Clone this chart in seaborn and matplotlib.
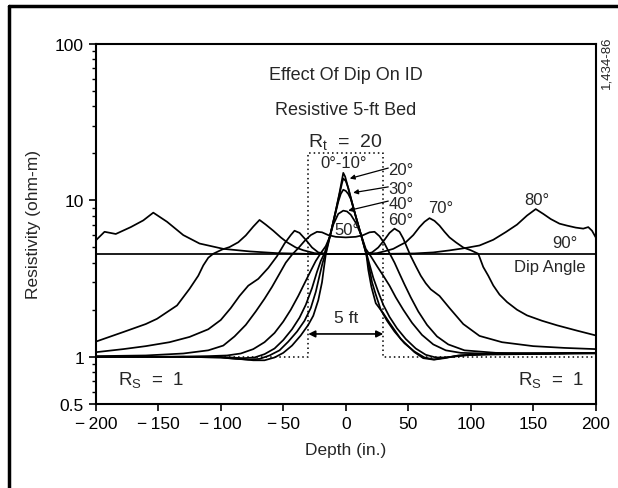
import matplotlib
matplotlib.use("Agg")
import matplotlib.pyplot as plt
import seaborn as sns
import pandas as pd
from matplotlib.lines import Line2D
from matplotlib.ticker import LogLocator, NullFormatter

# ID response of a resistive 5-ft bed (Rt = 20, Rs = 1) for several dip angles
# values: depth in inches, resistivity in ohm-m

depth_0_10 = [-200, -130, -100, -85, -74, -65, -57, -50, -43, -36, -30, -26, -22, -19, -17.5, -16,
              -12, -8, -5, -3, -2, -0.5, 1, 4, 8, 12, 16.5, 18, 20.5, 24, 30, 35, 44, 55, 62, 70,
              80, 100, 140, 200]
res_0_10 = [1.0, 1.0, 0.99, 0.97, 0.95, 0.95, 0.99, 1.06, 1.18, 1.37, 1.6, 1.83, 2.3, 3.0, 3.7, 4.5,
            6.2, 8.6, 11.2, 13.6, 15.0, 14.2, 12.8, 10.4, 7.9, 6.1, 4.5, 3.6, 2.8, 2.2, 1.9, 1.65,
            1.3, 1.07, 0.98, 0.96, 0.99, 1.03, 1.04, 1.05]

depth_20 = [-200, -130, -100, -88, -78, -69, -61, -53, -46, -39, -33, -28, -24, -21, -18.5, -16.5,
            -12, -8, -5, -3, -2, 0, 2, 4, 8, 12, 16.5, 18.5, 21, 24, 28, 33, 39, 47, 55, 63, 71, 79,
            90, 110, 150, 200]
res_20 = [1.0, 1.0, 0.99, 0.97, 0.96, 0.97, 1.02, 1.1, 1.25, 1.45, 1.7, 2.05, 2.6, 3.3, 4.0, 4.5,
          6.2, 8.6, 11.0, 12.9, 13.8, 13.3, 12.0, 10.4, 7.9, 6.1, 4.5, 3.8, 3.0, 2.5, 2.0, 1.7, 1.45,
          1.22, 1.08, 0.99, 0.96, 0.98, 1.02, 1.04, 1.05, 1.06]

depth_30 = [-200, -130, -104, -92, -82, -73, -65, -57, -50, -43, -37, -32, -27, -23, -20, -17, -13,
            -9, -6, -4, -2, 0, 2, 4, 8, 12, 16.5, 19, 22, 26, 30, 35, 41, 48, 56, 64, 72, 80, 92,
            115, 150, 200]
res_30 = [1.0, 1.0, 1.0, 0.99, 0.98, 0.99, 1.04, 1.13, 1.28, 1.5, 1.78, 2.15, 2.75, 3.5, 4.1, 4.6,
          5.8, 7.8, 9.8, 11.0, 11.7, 11.5, 11.0, 10.2, 7.9, 6.1, 4.6, 3.9, 3.2, 2.6, 2.15, 1.8, 1.52,
          1.3, 1.13, 1.03, 0.99, 0.99, 1.02, 1.04, 1.05, 1.06]

depth_40 = [-200, -140, -110, -95, -84, -74, -65, -57, -50, -44, -38, -33, -28, -24, -20, -16, -13,
            -10, -6, -2, 1, 4, 8, 12, 16, 20, 25, 30, 35, 40, 46, 53, 61, 70, 80, 92, 110, 150, 200]
res_40 = [1.0, 1.0, 1.01, 1.02, 1.05, 1.12, 1.24, 1.42, 1.68, 2.0, 2.45, 2.95, 3.55, 4.1, 4.6, 5.1,
          5.8, 7.0, 8.2, 8.6, 8.5, 8.1, 7.2, 6.1, 4.9, 4.4, 3.8, 3.3, 2.85, 2.4, 2.0, 1.65, 1.38,
          1.2, 1.1, 1.06, 1.05, 1.05, 1.06]

depth_50 = [-200, -160, -130, -110, -98, -89, -80, -72, -65, -59, -53, -48, -43, -38, -33, -28, -23,
            -19, -14, -8, 0, 8, 14, 19, 23, 27, 31, 35, 39, 43, 47, 52, 58, 65, 73, 82, 95, 120,
            160, 200]
res_50 = [1.01, 1.02, 1.05, 1.1, 1.18, 1.35, 1.6, 1.95, 2.35, 2.8, 3.4, 4.0, 4.5, 4.95, 5.5, 6.0,
          6.3, 6.25, 6.0, 5.85, 5.8, 5.85, 6.0, 6.25, 6.3, 5.9, 5.3, 4.6, 4.0, 3.4, 2.9, 2.4, 1.95,
          1.6, 1.35, 1.2, 1.1, 1.06, 1.05, 1.06]

depth_60 = [-200, -178, -160, -141, -125, -110, -100, -92, -85, -78, -70, -62, -55, -49, -44, -41,
            -37, -32, -27, -22, -16, 0, 16, 21, 26, 31, 35, 39, 43, 46, 49, 52, 56, 60, 64, 68, 75,
            83, 94, 107, 125, 150, 175, 200]
res_60 = [1.07, 1.12, 1.17, 1.24, 1.34, 1.5, 1.72, 2.05, 2.45, 2.85, 3.15, 3.7, 4.4, 5.3, 6.0, 6.4,
          6.2, 5.6, 5.0, 4.65, 4.55, 4.55, 4.55, 4.65, 5.0, 5.6, 6.2, 6.6, 6.3, 5.7, 5.0, 4.4, 3.8,
          3.3, 2.95, 2.7, 2.45, 2.05, 1.62, 1.36, 1.24, 1.17, 1.14, 1.12]

depth_70 = [-200, -178, -160, -151, -135, -125, -118, -114, -110, -106, -99, -93, -86, -80, -74,
            -69, -64, -58, -52, -47, -40, -34, -25, -15, 0, 15, 25, 32, 38, 43, 48, 54, 59, 63, 67,
            71, 75, 79, 83, 88, 94, 100, 106, 110, 114, 118, 123, 129, 137, 145, 157, 169, 185, 200]
res_70 = [1.25, 1.44, 1.62, 1.75, 2.13, 2.72, 3.3, 3.84, 4.3, 4.56, 4.85, 5.03, 5.4, 5.97, 6.8, 7.5,
          7.0, 6.4, 5.8, 5.4, 5.0, 4.8, 4.6, 4.55, 4.55, 4.55, 4.6, 4.75, 4.9, 5.15, 5.4, 6.0, 6.75,
          7.3, 7.7, 7.4, 6.9, 6.3, 5.8, 5.4, 5.0, 4.8, 4.56, 3.75, 3.3, 2.86, 2.5, 2.24, 2.0, 1.84,
          1.7, 1.59, 1.47, 1.37]

depth_80 = [-200, -193, -184, -172, -162, -154, -143, -130, -117, -98, -77, -55, -30, 0, 30, 55, 70,
            83, 95, 107, 118, 128, 137, 145, 152, 158, 164, 171, 177, 184, 190, 194, 197, 200]
res_80 = [5.55, 6.3, 6.1, 6.75, 7.45, 8.35, 7.3, 6.0, 5.3, 4.9, 4.72, 4.6, 4.55, 4.55, 4.55, 4.58,
          4.65, 4.79, 4.95, 5.15, 5.6, 6.27, 7.0, 8.0, 8.8, 8.2, 7.6, 7.1, 6.9, 6.7, 6.6, 6.75,
          6.4, 5.8]

depth_90 = [-200, 200]
res_90 = [4.55, 4.55]

# true bed profile (dotted)
bed_depth = [-200, -30, -30, 30, 30, 200]
bed_res = [1.0, 1.0, 20.0, 20.0, 1.0, 1.0]

x_ticks = [-200, -150, -100, -50, 0, 50, 100, 150, 200]
y_ticks = [0.5, 1, 10, 100]

curves = {
    "0-10": (depth_0_10, res_0_10),
    "20": (depth_20, res_20),
    "30": (depth_30, res_30),
    "40": (depth_40, res_40),
    "50": (depth_50, res_50),
    "60": (depth_60, res_60),
    "70": (depth_70, res_70),
    "80": (depth_80, res_80),
    "90": (depth_90, res_90),
}
df = pd.concat([pd.DataFrame({"depth": d, "res": r, "dip": k}) for k, (d, r) in curves.items()],
               ignore_index=True)

sns.set_style("ticks")
plt.rcParams["font.family"] = ["Liberation Sans", "DejaVu Sans"]
plt.rcParams["mathtext.fontset"] = "custom"
plt.rcParams["mathtext.rm"] = "Liberation Sans"
plt.rcParams["mathtext.it"] = "Liberation Sans"

fig = plt.figure(figsize=(6.18, 4.89), dpi=100)
ax = fig.add_axes([0.155, 0.172, 0.809, 0.736])
ax.set_yscale("log")

sns.lineplot(data=df, x="depth", y="res", hue="dip", palette=["black"] * len(curves),
             estimator=None, sort=False, legend=False, linewidth=1.25, ax=ax)
sns.lineplot(x=bed_depth, y=bed_res, color="black", linestyle=(0, (1, 2)), linewidth=1.1,
             estimator=None, sort=False, ax=ax)

ax.set_xlim(-200, 200)
ax.set_ylim(0.5, 100)
ax.set_xticks(x_ticks)
ax.set_xticklabels([("\u2212\u2009%d" % -t) if t < 0 else "%d" % t for t in x_ticks])
ax.set_yticks(y_ticks)
ax.set_yticklabels(["0.5", "1", "10", "100"])
ax.yaxis.set_minor_locator(LogLocator(base=10, subs=[2, 3, 4, 5, 6, 7, 8, 9]))
ax.yaxis.set_minor_formatter(NullFormatter())
ax.tick_params(axis="both", which="major", direction="out", length=5, width=1.2,
               labelsize=12.5, color="black", labelcolor="black")
ax.tick_params(axis="y", which="minor", direction="out", length=3, width=1.0, color="black")
for s in ax.spines.values():
    s.set_linewidth(1.5)
    s.set_color("black")
    s.set_visible(True)

ax.set_xlabel("Depth (in.)", fontsize=12.5, labelpad=8)
ax.set_ylabel("Resistivity (ohm-m)", fontsize=12.5, labelpad=10)

# annotations
ax.text(0, 64, "Effect Of Dip On ID", ha="center", va="center", fontsize=13)
ax.text(0, 38, "Resistive 5-ft Bed", ha="center", va="center", fontsize=13)
ax.text(0, 23.8, r"R$_{\rm t}$  =  20", ha="center", va="center", fontsize=14)
ax.text(-2, 17.4, "0°-10°", ha="center", va="center", fontsize=12)
ax.text(1, 6.5, "50°", ha="center", va="center", fontsize=12)
ax.text(34, 15.7, "20°", ha="left", va="center", fontsize=12)
ax.text(34, 12.0, "30°", ha="left", va="center", fontsize=12)
ax.text(34, 9.5, "40°", ha="left", va="center", fontsize=12)
ax.text(34, 7.6, "60°", ha="left", va="center", fontsize=12)
ax.text(76, 9.0, "70°", ha="center", va="center", fontsize=12)
ax.text(153, 10.2, "80°", ha="center", va="center", fontsize=12)
ax.text(175, 5.4, "90°", ha="center", va="center", fontsize=12)
ax.text(163, 3.8, "Dip Angle", ha="center", va="center", fontsize=12)
ax.text(0, 1.78, "5 ft", ha="center", va="center", fontsize=12.5)
ax.text(-156, 0.72, r"R$_{\rm S}$  =  1", ha="center", va="center", fontsize=13.5)
ax.text(164, 0.72, r"R$_{\rm S}$  =  1", ha="center", va="center", fontsize=13.5)

arrow = dict(arrowstyle="-|>", color="black", lw=0.9, mutation_scale=7, shrinkA=0, shrinkB=0)
ax.annotate("", xy=(3.2, 13.8), xytext=(34, 16.1), arrowprops=arrow)
ax.annotate("", xy=(5.9, 11.2), xytext=(34, 12.2), arrowprops=arrow)
ax.annotate("", xy=(1.9, 8.6), xytext=(34, 9.9), arrowprops=arrow)
ax.annotate("", xy=(-30, 1.4), xytext=(30, 1.4),
            arrowprops=dict(arrowstyle="<|-|>", color="black", lw=1.2, mutation_scale=10,
                            shrinkA=0, shrinkB=0))

ax.text(1.022, 0.95, "1,434-86", transform=ax.transAxes, rotation=90, ha="center", va="center",
        fontsize=9.5)

# page frame
fig.add_artist(Line2D([0.014, 0.014], [0.0, 0.985], transform=fig.transFigure, color="black", lw=2.5))
fig.add_artist(Line2D([0.014, 1.0], [0.985, 0.985], transform=fig.transFigure, color="black", lw=2.5))

fig.savefig("out.png", dpi=100)
